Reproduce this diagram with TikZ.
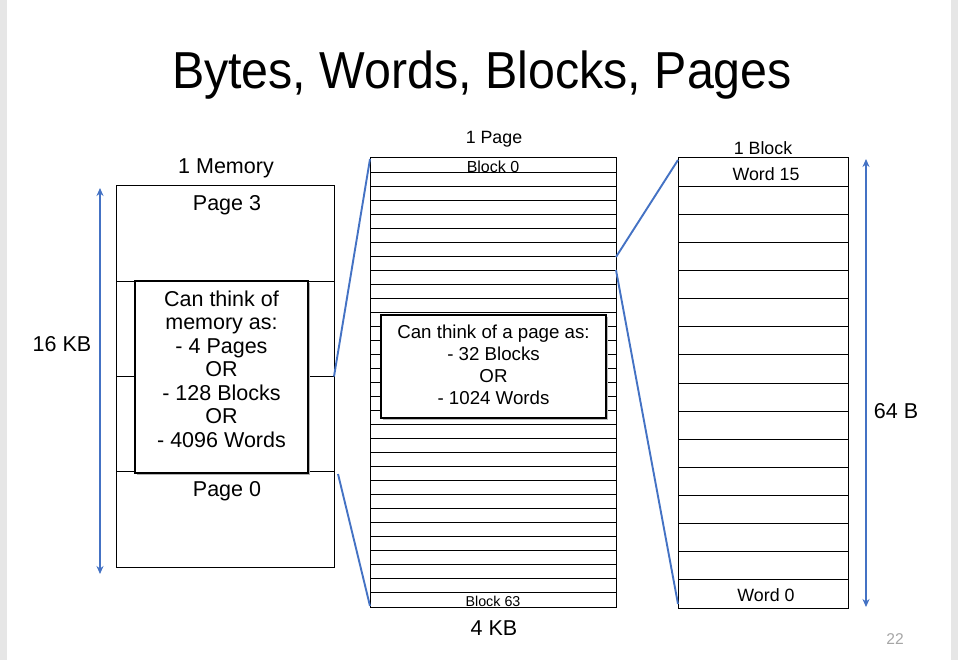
\documentclass[tikz,border=0pt]{standalone}
\usepackage{fontspec}
\setmainfont{Liberation Sans}
\usetikzlibrary{arrows.meta,calc}
\definecolor{linkblue}{HTML}{4472C4}
\definecolor{slidegray}{HTML}{E6E6E6}
\definecolor{numgray}{HTML}{A6A6A6}
\begin{document}
\begin{tikzpicture}[x=1pt,y=-1pt,
  frame/.style={draw=black, line width=1pt, inner sep=0pt, outer sep=0pt, fill=white},
  notebox/.style={draw=black, line width=1.8pt, inner sep=0pt, outer sep=0pt, fill=white},
  rowline/.style={draw=black, line width=0.9pt},
  label/.style={inner sep=0pt, yshift=-1.5pt, font=\fontsize{21.5}{23.5}\selectfont},
  small/.style={inner sep=0pt, yshift=-1pt, font=\fontsize{17.8}{20}\selectfont},
  conn/.style={draw=linkblue, line width=1.9pt},
  dim/.style={draw=linkblue, line width=1.9pt, {Stealth[length=8pt,width=7pt]}-{Stealth[length=8pt,width=7pt]}}
]
% slide background with grey side strips
\useasboundingbox (0,0) rectangle (958,660);
\fill[slidegray] (0,0) rectangle (958,660);
\fill[white] (7,0) rectangle (951,660);

% title
\node[inner sep=0pt, anchor=base] (title) at (482,89)
  {\fontsize{52}{60}\selectfont\scalebox{0.93}[1]{Bytes, Words, Blocks, Pages}};

% ---------- memory column ----------
\node[frame, minimum width=218pt, minimum height=381pt] (mem) at (225,376.5) {};
\foreach \k in {1,2,3}
  \draw[rowline] ($(mem.north west)+(0,95.25*\k)$) -- ($(mem.north east)+(0,95.25*\k)$);
\node[label] (memcap) at (226,167) {1 Memory};
\node[label] (pg3) at (227,204) {Page 3};
\node[label] (pg0) at (227,490) {Page 0};
\fill[black!30] (137,283) rectangle (310,475);
\node[notebox, minimum width=173pt, minimum height=192pt] (memnote) at (221.5,377) {};
\node[label, align=center] (memtext) at (221.5,367.5)
  {Can think of\\memory as:\\- 4 Pages\\OR\\- 128 Blocks\\OR\\- 4096 Words};
\coordinate (memtop) at (100,188);
\coordinate (membot) at (100,574);
\draw[dim] (memtop) -- (membot);
\node[label] (memsize) at (62,343) {16 KB};

% ---------- page column ----------
\node[frame, minimum width=246pt, minimum height=449pt] (pg) at (493,382.5) {};
\foreach \k in {1,...,31}
  \draw[rowline] ($(pg.north west)+(0,14.03*\k)$) -- ($(pg.north east)+(0,14.03*\k)$);
\node[inner sep=0pt, font=\fontsize{16}{18}\selectfont] (blk0) at (493,166.5) {Block 0};
\node[inner sep=0pt, font=\fontsize{14.3}{16}\selectfont] (blk63) at (493,601) {Block 63};
\node[small] (pgcap) at (494,138) {1 Page};
\node[label] (pgsize) at (494,627) {4 KB};
\fill[black!28] (383,317) rectangle (608,420);
\node[notebox, minimum width=225pt, minimum height=103pt] (pgnote) at (493.5,366.5) {};
\node[inner sep=0pt, yshift=-1pt, align=center, font=\fontsize{18.7}{22}\selectfont] (pgtext) at (493.5,364)
  {Can think of a page as:\\- 32 Blocks\\OR\\- 1024 Words};

% ---------- block column ----------
\node[frame, minimum width=170pt, minimum height=450pt] (blk) at (763,383) {};
\foreach \k in {1,...,15}
  \draw[rowline] ($(blk.north west)+(0,28.125*\k)$) -- ($(blk.north east)+(0,28.125*\k)$);
\node[small] (blkcap) at (763,147) {1 Block};
\node[small] (w15) at (766,173) {Word 15};
\node[small] (w0) at (766,594) {Word 0};
\coordinate (blktop) at (866,159);
\coordinate (blkbot) at (866,607);
\draw[dim] (blktop) -- (blkbot);
\node[label] (blksize) at (896,410) {64 B};

% ---------- zoom connectors ----------
\coordinate (memlow) at (338,474);
\coordinate (pgsel1) at (616,257);
\coordinate (pgsel2) at (616,270);
\draw[conn] (mem.east) -- ($(pg.north west)+(0,1)$);
\draw[conn] (memlow) -- ($(pg.south west)+(0,-1)$);
\draw[conn] (pgsel1) -- ($(blk.north west)+(0,2)$);
\draw[conn] (pgsel2) -- ($(blk.south west)+(0,-4)$);

% slide number
\node[inner sep=0pt, text=numgray, font=\fontsize{15.6}{18}\selectfont] (slideno) at (895,639) {22};
\end{tikzpicture}
\end{document}
